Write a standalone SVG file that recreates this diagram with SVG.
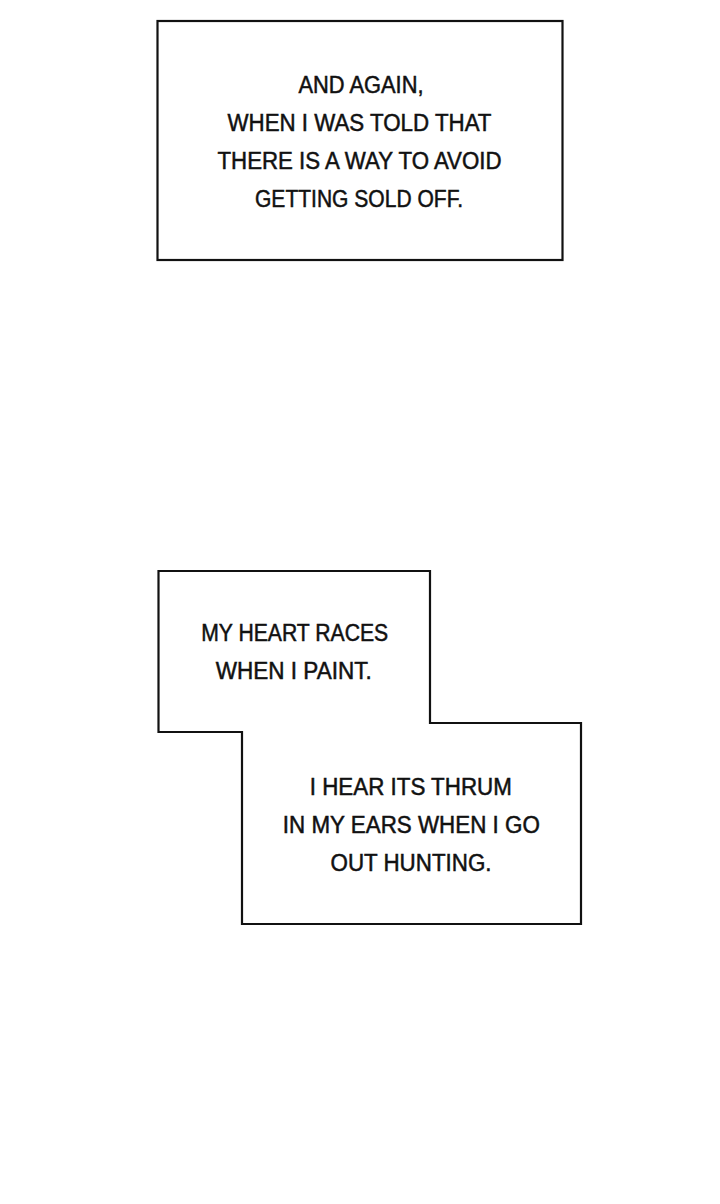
<svg xmlns="http://www.w3.org/2000/svg" width="720" height="1204" viewBox="0 0 720 1204">
<style>
.box{fill:#fff;stroke:#111;stroke-width:2.2;stroke-linejoin:miter}
.t{font-family:"Liberation Sans","Noto Sans",Arial,sans-serif;font-size:23.5px;fill:#111;stroke:#111;stroke-width:0.5;text-anchor:middle}
</style>
<rect x="0" y="0" width="720" height="1204" fill="#fff"/>
<g id="caption1">
<rect class="box" x="157.5" y="21" width="405" height="239"/>
<text class="t" x="361" y="93.3" textLength="125" lengthAdjust="spacingAndGlyphs">AND AGAIN,</text>
<text class="t" x="359.5" y="130.7" textLength="264" lengthAdjust="spacingAndGlyphs">WHEN I WAS TOLD THAT</text>
<text class="t" x="359.5" y="169" textLength="284" lengthAdjust="spacingAndGlyphs">THERE IS A WAY TO AVOID</text>
<text class="t" x="359" y="206.7" textLength="208" lengthAdjust="spacingAndGlyphs">GETTING SOLD OFF.</text>
</g>
<g id="caption2">
<path class="box" d="M158.5,571 H430 V723 H581 V924 H242 V732 H158.5 Z"/>
<text class="t" x="294.7" y="641" textLength="187" lengthAdjust="spacingAndGlyphs">MY HEART RACES</text>
<text class="t" x="293.8" y="679" textLength="156" lengthAdjust="spacingAndGlyphs">WHEN I PAINT.</text>
<text class="t" x="410.8" y="795" textLength="202" lengthAdjust="spacingAndGlyphs">I HEAR ITS THRUM</text>
<text class="t" x="411.3" y="833.3" textLength="257" lengthAdjust="spacingAndGlyphs">IN MY EARS WHEN I GO</text>
<text class="t" x="411" y="870.7" textLength="161" lengthAdjust="spacingAndGlyphs">OUT HUNTING.</text>
</g>
</svg>
